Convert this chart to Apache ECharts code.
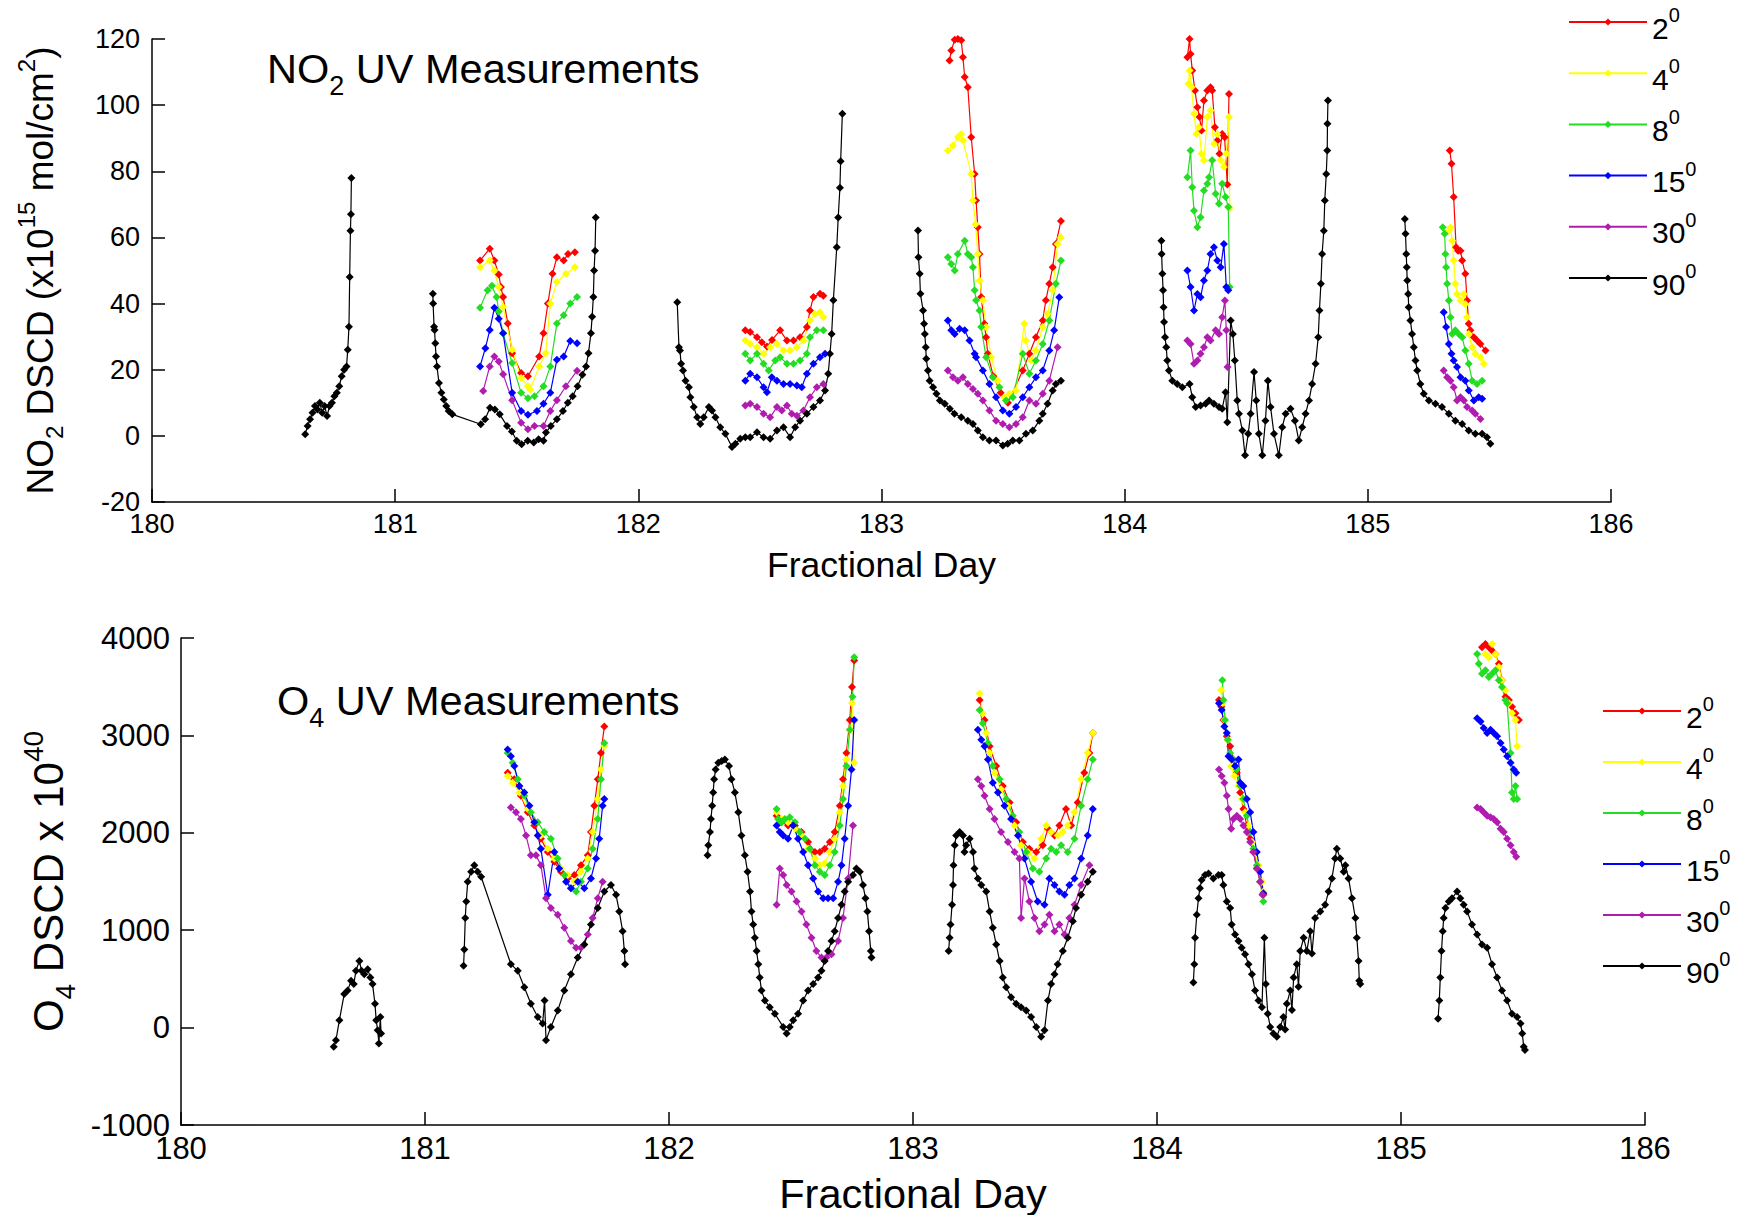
<!DOCTYPE html>
<html>
<head>
<meta charset="utf-8">
<script src="https://cdn.jsdelivr.net/npm/echarts@6/dist/echarts.min.js"></script>
<style>
  html, body { margin: 0; padding: 0; background: #fff; }
  #chart { width: 1740px; height: 1215px; }
</style>
</head>
<body>
<div id="chart"></div>
<script>
// elevation angles (legend entries)
const angles = ['2', '4', '8', '15', '30', '90'];

// ---- NO2 DSCD (x1e15 mol/cm2), one list of [day, value] per daylight period ----
const no2_2 = [
  [[181.349,53],[181.389,56.6],[181.408,53],[181.426,48.8],[181.435,45],[181.444,42],[181.463,34],[181.481,25],[181.518,19],[181.546,18],[181.592,24],[181.61,31],[181.628,40],[181.647,49],[181.665,54],[181.693,53],[181.711,55],[181.739,55.5]],
  [[182.44,31.9],[182.46,31.4],[182.488,29.8],[182.508,28.3],[182.529,27],[182.55,29],[182.583,31.9],[182.611,28.8],[182.638,28.8],[182.665,29.8],[182.693,32.9],[182.706,37.9],[182.72,42],[182.747,43],[182.761,42.4]],
  [[183.28,113.5],[183.287,116.5],[183.301,119.8],[183.314,120],[183.328,119.6],[183.335,114.5],[183.342,108.5],[183.355,105.4],[183.369,90.3],[183.383,79.2],[183.389,71.2],[183.396,63.1],[183.403,55],[183.41,42],[183.423,33.9],[183.43,29.8],[183.437,24.8],[183.46,18],[183.49,13],[183.52,10],[183.581,19.8],[183.608,24.8],[183.635,29.8],[183.663,34.9],[183.676,41],[183.69,46],[183.704,51],[183.717,58],[183.738,65]],
  [[184.258,114.5],[184.267,120],[184.271,115.5],[184.278,110.5],[184.289,104.4],[184.299,99.4],[184.308,96.4],[184.316,92.3],[184.326,101.4],[184.34,104.4],[184.353,105.4],[184.36,104.4],[184.371,93.3],[184.381,89.3],[184.39,85.3],[184.401,91.3],[184.411,90.3],[184.422,76],[184.429,103.4]],
  [[185.337,86.3],[185.344,82.3],[185.353,72.2],[185.363,57],[185.371,56],[185.381,56],[185.388,53],[185.401,49],[185.408,40.9],[185.415,33.9],[185.422,31.9],[185.436,29.8],[185.449,28.8],[185.463,27.8],[185.484,25.8]]
];
const no2_4 = [
  [[181.349,51],[181.389,53],[181.408,50],[181.426,45],[181.444,39],[181.481,26],[181.518,17.5],[181.546,15],[181.555,14],[181.592,21],[181.619,25],[181.638,40],[181.665,46.5],[181.702,49],[181.739,51]],
  [[182.44,28.8],[182.46,27.8],[182.488,26.8],[182.515,24.8],[182.542,26.8],[182.57,27.8],[182.597,25.8],[182.624,25.8],[182.652,26.8],[182.679,28.8],[182.706,34.9],[182.727,36.9],[182.747,37.4],[182.761,35.9]],
  [[183.273,86.3],[183.294,87.8],[183.314,90.3],[183.328,91.3],[183.335,89.3],[183.369,79.2],[183.376,71.2],[183.387,64],[183.396,55],[183.403,47],[183.417,41],[183.43,32.9],[183.451,23.8],[183.478,16.7],[183.505,11.7],[183.526,12.7],[183.553,13.7],[183.587,33.9],[183.594,28.8],[183.615,22.8],[183.635,25.8],[183.663,32.9],[183.683,36.9],[183.704,44],[183.724,58],[183.738,60]],
  [[184.262,106.5],[184.267,110.5],[184.275,105.4],[184.285,97.4],[184.295,91.3],[184.305,93.3],[184.316,85.3],[184.326,83.3],[184.34,96.4],[184.353,98.4],[184.367,88.3],[184.381,91.3],[184.395,83.3],[184.408,81.3],[184.418,85.3],[184.429,96.4],[184.432,69]],
  [[185.333,62],[185.34,63],[185.347,59],[185.353,53],[185.36,46],[185.367,42.9],[185.381,40.9],[185.395,42.9],[185.401,39.9],[185.408,35.9],[185.415,30.8],[185.429,26.8],[185.442,24.8],[185.463,23.8],[185.477,21.8]]
];
const no2_8 = [
  [[181.349,38.7],[181.38,44],[181.398,45.4],[181.417,42],[181.426,37.6],[181.444,31],[181.481,22],[181.518,13],[181.546,11.4],[181.573,12],[181.61,15],[181.638,21],[181.665,34],[181.693,36.5],[181.72,40],[181.748,42]],
  [[182.44,24.8],[182.46,22.8],[182.488,24.8],[182.515,21.8],[182.536,19.8],[182.563,22.8],[182.583,23.8],[182.611,21.8],[182.638,21.8],[182.665,22.8],[182.693,24.8],[182.706,29.8],[182.734,31.9],[182.761,31.9]],
  [[183.273,54],[183.287,52],[183.301,50],[183.314,55],[183.342,59],[183.355,55],[183.369,54],[183.376,51],[183.383,44],[183.389,41],[183.403,37.9],[183.41,32.9],[183.43,23.8],[183.458,17.7],[183.485,14.7],[183.512,10.7],[183.54,11.7],[183.581,24.8],[183.608,18.8],[183.635,22.8],[183.663,27.8],[183.69,34.9],[183.717,46],[183.738,53]],
  [[184.258,78.2],[184.271,86.3],[184.278,75.2],[184.285,68.1],[184.299,63.1],[184.312,66.1],[184.326,74.2],[184.34,76.2],[184.347,78.2],[184.36,83.3],[184.374,73.2],[184.388,70.2],[184.401,76.2],[184.415,72.2],[184.426,69.2],[184.432,45]],
  [[185.308,63.1],[185.316,61.1],[185.319,55],[185.322,51],[185.326,46],[185.333,40.9],[185.34,35.9],[185.347,30.8],[185.36,31.9],[185.374,30.8],[185.388,29.8],[185.401,25.8],[185.415,21.8],[185.429,16.7],[185.449,15.7],[185.47,16.7]]
];
const no2_15 = [
  [[181.349,21],[181.371,26.5],[181.389,32],[181.408,38.7],[181.426,35.4],[181.444,31],[181.481,13],[181.518,7.5],[181.546,6.4],[181.583,7.5],[181.61,9.7],[181.638,13],[181.665,23],[181.693,24],[181.72,28.7],[181.748,28]],
  [[182.44,16.7],[182.46,18.8],[182.488,17.7],[182.515,14.7],[182.529,13.2],[182.549,17.7],[182.57,16.7],[182.597,15.7],[182.624,15.7],[182.652,15.2],[182.672,14.7],[182.693,18.8],[182.72,21.8],[182.747,23.8],[182.768,24.8]],
  [[183.273,34.9],[183.287,31.9],[183.301,30.8],[183.321,32.4],[183.342,31.9],[183.362,28.8],[183.383,24.8],[183.389,23.8],[183.417,19.8],[183.444,15.7],[183.471,11.7],[183.499,7.7],[183.526,6.7],[183.553,8.7],[183.581,11.7],[183.608,14.7],[183.635,17.7],[183.663,19.8],[183.69,25.8],[183.71,31.9],[183.731,41.9]],
  [[184.258,50],[184.271,45],[184.285,37.9],[184.299,42.9],[184.312,41.9],[184.326,47],[184.34,50],[184.353,55],[184.367,57],[184.381,53],[184.395,51],[184.408,58],[184.418,45],[184.426,44]],
  [[185.312,37.4],[185.322,32.9],[185.333,27.8],[185.344,24.8],[185.353,22.8],[185.367,20.8],[185.381,17.7],[185.401,16.7],[185.415,13.7],[185.436,10.7],[185.456,11.7],[185.47,11.2]]
];
const no2_30 = [
  [[181.362,13.6],[181.389,21],[181.408,24],[181.426,22.5],[181.444,18.6],[181.481,10.8],[181.518,4],[181.546,2],[181.573,3],[181.61,3],[181.638,7.5],[181.665,10.8],[181.702,15],[181.748,19.7]],
  [[182.44,9.2],[182.46,9.7],[182.488,8.7],[182.515,6.7],[182.542,5.6],[182.57,8.7],[182.59,7.7],[182.611,9.2],[182.631,6.7],[182.652,6.1],[182.679,7.7],[182.706,11.7],[182.734,14.7],[182.761,15.7]],
  [[183.273,19.8],[183.294,17.7],[183.314,16.7],[183.335,17.7],[183.355,15.7],[183.376,14.2],[183.396,12.7],[183.417,10.7],[183.444,7.7],[183.471,4.6],[183.499,3.6],[183.526,2.6],[183.553,3.6],[183.581,5.6],[183.608,10.7],[183.635,9.7],[183.663,12.7],[183.69,16.7],[183.724,26.8]],
  [[184.258,28.8],[184.271,27.8],[184.285,21.8],[184.299,22.8],[184.312,24.8],[184.326,26.8],[184.34,29.8],[184.353,28.8],[184.374,31.9],[184.388,30.8],[184.401,35.9],[184.412,40.9],[184.418,31.9],[184.423,20.8]],
  [[185.312,19.8],[185.326,17.7],[185.34,16.7],[185.353,14.7],[185.367,10.7],[185.381,11.7],[185.395,10.7],[185.408,8.7],[185.429,7.7],[185.442,6.7],[185.463,5.1]]
];
const no2_90 = [
  [[180.63,0.5],[180.64,3],[180.65,5],[180.66,7],[180.67,9],[180.68,8],[180.69,10],[180.70,7],[180.71,9],[180.72,6],[180.73,9],[180.74,10],[180.75,12],[180.76,13],[180.77,15],[180.78,18],[180.79,20],[180.80,21],[180.805,26],[180.81,33],[180.813,48],[180.816,62],[180.818,67],[180.82,78]],
  [[181.155,43],[181.156,40],[181.16,33],[181.162,32],[181.165,28],[181.168,24],[181.172,21],[181.18,16],[181.19,13],[181.2,11],[181.21,9],[181.22,7.5],[181.235,6.5],[181.352,3.5],[181.37,5],[181.39,8.5],[181.41,8],[181.43,6.5],[181.46,3],[181.48,1.3],[181.5,-1.5],[181.52,-2.5],[181.545,-1.5],[181.57,-2],[181.59,-1],[181.61,-1.5],[181.62,1],[181.64,3],[181.665,5],[181.69,7.5],[181.71,10],[181.73,12],[181.75,15],[181.77,18.5],[181.785,21],[181.795,25],[181.805,31],[181.81,36],[181.815,42],[181.818,50],[181.822,56],[181.825,66]],
  [[182.16,40.4],[182.167,26.8],[182.171,25.8],[182.176,21.8],[182.184,19.8],[182.194,16.7],[182.208,14.7],[182.214,11.7],[182.228,8.7],[182.242,5.6],[182.255,3.6],[182.269,5.6],[182.29,8.7],[182.303,7.7],[182.317,5.6],[182.337,2.6],[182.358,0.6],[182.385,-3.4],[182.399,-2.4],[182.419,-0.9],[182.44,-0.4],[182.46,-0.4],[182.488,1.1],[182.515,-0.4],[182.542,-0.9],[182.57,1.6],[182.597,2.6],[182.624,-0.4],[182.645,2.6],[182.665,4.6],[182.693,6.7],[182.72,8.7],[182.747,10.7],[182.768,13.7],[182.781,18.8],[182.788,24.8],[182.795,30.8],[182.802,41],[182.816,57],[182.822,66],[182.829,75],[182.832,83],[182.839,97.4]],
  [[183.15,62.1],[183.152,54],[183.157,49],[183.16,43],[183.171,37.9],[183.175,33.9],[183.178,30.8],[183.182,26.8],[183.184,23.3],[183.191,19.8],[183.198,16.7],[183.212,14.7],[183.226,12.7],[183.24,10.7],[183.26,9.7],[183.281,8.2],[183.3,6.7],[183.328,5.6],[183.355,4.6],[183.376,3.6],[183.396,1.6],[183.417,-0.4],[183.444,-1.4],[183.471,-1.4],[183.499,-2.9],[183.519,-2.4],[183.54,-1.4],[183.567,-1.4],[183.594,0.6],[183.622,1.6],[183.649,4.6],[183.663,6.7],[183.683,9.7],[183.704,13.7],[183.717,15.7],[183.738,16.7]],
  [[184.151,59],[184.152,55],[184.155,49],[184.158,44],[184.16,38.9],[184.162,34.4],[184.166,29.8],[184.171,26.8],[184.175,22.8],[184.182,19.8],[184.196,16.7],[184.216,15.7],[184.237,14.7],[184.267,15.7],[184.278,11.7],[184.292,8.7],[184.312,9.2],[184.333,9.7],[184.347,10.7],[184.367,9.7],[184.388,8.7],[184.401,8.2],[184.415,13.2],[184.422,4.1],[184.436,34.9],[184.445,30.8],[184.453,22.8],[184.463,10.7],[184.47,6.7],[184.484,1.6],[184.495,-5.9],[184.508,0.6],[184.518,6.7],[184.532,19.3],[184.541,10.7],[184.552,0.6],[184.566,-5.9],[184.579,4.6],[184.589,16.7],[184.6,8.7],[184.614,0.6],[184.634,-5.9],[184.648,2.6],[184.662,6.7],[184.682,8.2],[184.7,4.6],[184.716,-1.4],[184.73,2.6],[184.744,6.7],[184.758,10.7],[184.771,15.7],[184.785,21.8],[184.796,29.8],[184.801,37.9],[184.807,46],[184.812,55],[184.819,62],[184.823,71.2],[184.829,79.2],[184.833,86.3],[184.834,94.4],[184.836,101.4]],
  [[185.152,65.6],[185.155,61.1],[185.158,55],[185.16,51],[185.162,47],[185.166,42.9],[185.168,38.9],[185.175,34.9],[185.182,30.8],[185.189,26.8],[185.196,22.8],[185.203,19.8],[185.216,15.7],[185.23,12.7],[185.251,10.7],[185.278,9.7],[185.305,8.7],[185.333,6.7],[185.36,4.6],[185.388,3.6],[185.415,1.6],[185.442,0.6],[185.47,0.6],[185.49,-0.4],[185.504,-2.4]]
];

// ---- O4 DSCD (x1e40) ----
const o4_2 = [
  [[181.339,2617],[181.366,2549],[181.393,2380],[181.421,2210],[181.448,2075],[181.475,1939],[181.503,1803],[181.53,1702],[181.557,1600],[181.585,1532],[181.612,1566],[181.639,1668],[181.667,1769],[181.68,2007],[181.694,2278],[181.708,2549],[181.721,2820],[181.735,3092]],
  [[182.441,2176],[182.461,2108],[182.488,2075],[182.516,2075],[182.543,2007],[182.57,1905],[182.598,1803],[182.618,1803],[182.638,1837],[182.659,1905],[182.679,2007],[182.7,2278],[182.713,2549],[182.727,2820],[182.741,3159],[182.75,3498],[182.759,3770]],
  [[183.273,3363],[183.293,3159],[183.314,2888],[183.341,2685],[183.368,2481],[183.396,2312],[183.423,2108],[183.45,1905],[183.477,1837],[183.505,1803],[183.532,1871],[183.553,2041],[183.58,1973],[183.6,2075],[183.627,2244],[183.648,2075],[183.675,2312],[183.702,2617],[183.723,2820],[183.737,3024]],
  [[184.254,3363],[184.263,3295],[184.272,3159],[184.286,2990],[184.3,2888],[184.313,2753],[184.327,2617],[184.341,2414],[184.354,2244],[184.368,2075],[184.382,1939],[184.395,1803],[184.409,1634],[184.423,1498],[184.436,1363]],
  [[185.332,3905],[185.346,3939],[185.36,3905],[185.373,3871],[185.387,3837],[185.401,3736],[185.414,3566],[185.428,3397],[185.442,3363],[185.455,3295],[185.469,3227],[185.483,3159]]
];
const o4_4 = [
  [[181.339,2583],[181.359,2515],[181.387,2414],[181.421,2244],[181.448,2108],[181.475,1973],[181.503,1837],[181.53,1736],[181.557,1634],[181.585,1566],[181.612,1498],[181.639,1600],[181.667,1736],[181.687,2007],[181.708,2346],[181.721,2651],[181.735,2888]],
  [[182.441,2210],[182.461,2142],[182.488,2108],[182.516,2041],[182.543,1973],[182.57,1837],[182.598,1736],[182.618,1668],[182.638,1685],[182.659,1803],[182.679,1939],[182.7,2210],[182.713,2481],[182.727,2753],[182.741,3058],[182.75,3329],[182.759,2719]],
  [[183.273,3431],[183.286,3227],[183.3,3024],[183.314,2820],[183.334,2617],[183.361,2447],[183.389,2278],[183.416,2075],[183.443,1871],[183.471,1803],[183.498,1736],[183.525,1939],[183.546,2075],[183.566,2007],[183.593,1973],[183.614,2007],[183.634,2075],[183.662,2210],[183.689,2549],[183.716,2820],[183.737,3024]],
  [[184.263,3465],[184.268,3329],[184.276,3159],[184.29,2956],[184.304,2685],[184.317,2583],[184.334,2481],[184.347,2346],[184.361,2210],[184.375,2075],[184.389,1905],[184.402,1803],[184.416,1668],[184.43,1498],[184.436,1397]],
  [[185.346,3837],[185.36,3803],[185.373,3939],[185.387,3837],[185.401,3702],[185.414,3566],[185.428,3465],[185.442,3329],[185.455,3227],[185.469,3159],[185.476,2888]]
];
const o4_8 = [
  [[181.339,2820],[181.359,2719],[181.38,2549],[181.407,2380],[181.434,2210],[181.462,2108],[181.489,2007],[181.516,1939],[181.544,1736],[181.571,1566],[181.598,1431],[181.619,1397],[181.639,1498],[181.667,1634],[181.687,1837],[181.708,2142],[181.721,2549],[181.735,2922]],
  [[182.441,2244],[182.447,2142],[182.461,2108],[182.475,2142],[182.495,2159],[182.516,2108],[182.536,2007],[182.557,1939],[182.577,1837],[182.598,1668],[182.618,1600],[182.638,1566],[182.659,1668],[182.679,1803],[182.7,2075],[182.713,2346],[182.727,2685],[182.741,3058],[182.752,3397],[182.759,3803]],
  [[183.273,3261],[183.286,3126],[183.307,2922],[183.327,2685],[183.355,2549],[183.382,2346],[183.409,2176],[183.436,2007],[183.464,1803],[183.491,1634],[183.518,1600],[183.546,1736],[183.566,1837],[183.587,1803],[183.607,1871],[183.634,1803],[183.662,1939],[183.689,2278],[183.716,2549],[183.737,2753]],
  [[184.268,3566],[184.272,3363],[184.279,3159],[184.29,2956],[184.3,2820],[184.313,2753],[184.327,2651],[184.341,2481],[184.354,2346],[184.368,2176],[184.382,2007],[184.395,1837],[184.409,1668],[184.423,1498],[184.436,1295]],
  [[185.312,3837],[185.319,3736],[185.332,3634],[185.346,3668],[185.36,3600],[185.373,3634],[185.387,3668],[185.401,3566],[185.414,3498],[185.428,3363],[185.435,3329],[185.449,2820],[185.455,2414],[185.462,2346],[185.469,2481],[185.476,2346]]
];
const o4_15 = [
  [[181.339,2854],[181.352,2786],[181.366,2685],[181.387,2481],[181.407,2414],[181.428,2278],[181.448,2108],[181.462,1973],[181.475,1837],[181.503,1363],[181.53,1803],[181.55,1634],[181.578,1498],[181.598,1431],[181.626,1498],[181.653,1431],[181.68,1532],[181.701,1736],[181.714,1939],[181.728,2278],[181.735,2346]],
  [[182.441,2075],[182.454,2007],[182.468,1973],[182.488,1939],[182.509,2075],[182.529,1939],[182.55,1803],[182.57,1668],[182.591,1532],[182.611,1397],[182.632,1329],[182.652,1329],[182.673,1329],[182.693,1498],[182.707,1668],[182.72,1939],[182.734,2278],[182.748,2651],[182.759,3159]],
  [[183.266,3058],[183.28,2956],[183.293,2888],[183.307,2753],[183.327,2515],[183.348,2414],[183.375,2278],[183.402,2142],[183.43,1973],[183.457,1736],[183.484,1498],[183.511,1295],[183.539,1261],[183.559,1532],[183.58,1464],[183.6,1397],[183.621,1363],[183.641,1464],[183.662,1532],[183.689,1736],[183.716,1973],[183.737,2244]],
  [[184.254,3329],[184.265,3261],[184.276,3092],[184.286,3024],[184.293,2786],[184.306,2753],[184.32,2685],[184.334,2753],[184.341,2515],[184.354,2481],[184.368,2346],[184.382,2210],[184.395,2007],[184.409,1803],[184.423,1600],[184.436,1380]],
  [[185.312,3176],[185.326,3142],[185.339,3075],[185.353,3024],[185.367,3058],[185.38,3024],[185.394,2990],[185.408,2922],[185.421,2854],[185.435,2786],[185.449,2719],[185.462,2651],[185.472,2617]]
];
const o4_30 = [
  [[181.352,2261],[181.373,2210],[181.393,2142],[181.414,1973],[181.434,1769],[181.455,1769],[181.475,1668],[181.496,1329],[181.516,1227],[181.544,1159],[181.571,1024],[181.598,888],[181.619,820],[181.639,820],[181.667,956],[181.687,1125],[181.708,1329],[181.728,1498]],
  [[182.441,1261],[182.454,1634],[182.468,1566],[182.482,1464],[182.502,1397],[182.523,1295],[182.543,1193],[182.563,1058],[182.584,922],[182.604,786],[182.625,719],[182.645,719],[182.666,753],[182.693,888],[182.713,1125],[182.734,1532],[182.754,2075]],
  [[183.266,2549],[183.28,2481],[183.293,2380],[183.314,2244],[183.334,2142],[183.361,2007],[183.389,1905],[183.416,1803],[183.436,1736],[183.443,1125],[183.457,1532],[183.477,1295],[183.498,1125],[183.518,990],[183.539,1058],[183.559,1159],[183.58,990],[183.6,1058],[183.621,956],[183.641,1125],[183.662,1261],[183.689,1464],[183.723,1668]],
  [[184.254,2651],[184.265,2583],[184.276,2515],[184.286,2380],[184.293,2244],[184.304,2041],[184.313,2142],[184.327,2176],[184.341,2142],[184.354,2075],[184.368,2007],[184.382,1905],[184.395,1803],[184.409,1634],[184.423,1498],[184.432,1363]],
  [[185.312,2261],[185.326,2244],[185.339,2210],[185.353,2176],[185.367,2159],[185.38,2142],[185.394,2108],[185.408,2041],[185.421,2007],[185.435,1939],[185.449,1871],[185.462,1803],[185.472,1753]]
];
const o4_90 = [
  [[180.626,-197],[180.635,-129],[180.649,75],[180.669,346],[180.683,380],[180.697,481],[180.708,447],[180.717,583],[180.731,685],[180.74,583],[180.751,549],[180.765,600],[180.776,515],[180.785,447],[180.795,244],[180.8,75],[180.806,-27],[180.811,-163],[180.817,108],[180.82,-61]],
  [[181.158,634],[181.161,803],[181.165,1125],[181.169,1295],[181.175,1498],[181.189,1600],[181.202,1668],[181.216,1600],[181.23,1549],[181.352,651],[181.38,583],[181.407,414],[181.434,244],[181.462,108],[181.482,41],[181.49,278],[181.496,-129],[181.516,7],[181.544,176],[181.571,380],[181.598,549],[181.626,719],[181.653,854],[181.68,1058],[181.708,1227],[181.735,1397],[181.762,1464],[181.783,1363],[181.796,1193],[181.81,990],[181.817,786],[181.82,651]],
  [[182.158,1769],[182.161,1871],[182.168,2007],[182.172,2142],[182.177,2278],[182.181,2414],[182.185,2549],[182.191,2651],[182.202,2719],[182.216,2736],[182.229,2753],[182.246,2685],[182.256,2549],[182.27,2414],[182.284,2210],[182.297,1973],[182.311,1769],[182.322,1600],[182.332,1397],[182.338,1193],[182.345,1058],[182.352,922],[182.359,786],[182.366,651],[182.372,515],[182.379,380],[182.393,278],[182.413,210],[182.434,142],[182.468,7],[182.482,-61],[182.495,7],[182.509,75],[182.529,142],[182.55,278],[182.57,380],[182.591,447],[182.611,515],[182.625,583],[182.638,685],[182.652,786],[182.666,888],[182.679,990],[182.693,1125],[182.707,1261],[182.72,1397],[182.734,1498],[182.754,1566],[182.768,1634],[182.782,1600],[182.795,1464],[182.805,1329],[182.813,1193],[182.82,990],[182.827,786],[182.83,719]],
  [[183.146,786],[183.15,922],[183.154,1058],[183.16,1261],[183.164,1464],[183.166,1668],[183.171,1871],[183.177,1973],[183.191,2007],[183.205,1973],[183.211,1803],[183.218,1871],[183.232,1939],[183.246,1803],[183.252,1634],[183.266,1532],[183.28,1464],[183.3,1397],[183.314,1193],[183.327,1024],[183.341,854],[183.355,685],[183.368,515],[183.382,414],[183.402,312],[183.423,244],[183.443,210],[183.464,176],[183.484,108],[183.505,7],[183.525,-95],[183.539,-27],[183.553,278],[183.566,447],[183.58,549],[183.593,651],[183.614,786],[183.634,922],[183.655,1092],[183.668,1227],[183.689,1363],[183.716,1498],[183.737,1600]],
  [[184.149,464],[184.153,651],[184.156,922],[184.163,1159],[184.17,1329],[184.176,1431],[184.183,1515],[184.197,1566],[184.211,1583],[184.231,1532],[184.252,1566],[184.265,1566],[184.272,1464],[184.286,1295],[184.3,1227],[184.306,1058],[184.32,956],[184.334,888],[184.347,820],[184.361,753],[184.375,651],[184.389,549],[184.402,380],[184.416,278],[184.43,210],[184.44,922],[184.446,447],[184.454,142],[184.464,7],[184.477,-61],[184.491,-95],[184.505,7],[184.518,108],[184.525,-20],[184.532,244],[184.546,380],[184.553,180],[184.56,515],[184.573,651],[184.58,420],[184.587,786],[184.601,922],[184.614,786],[184.628,990],[184.635,760],[184.648,1125],[184.669,1193],[184.689,1261],[184.703,1397],[184.717,1532],[184.73,1736],[184.737,1837],[184.751,1736],[184.765,1600],[184.772,1668],[184.785,1532],[184.799,1329],[184.813,1125],[184.819,922],[184.826,685],[184.829,481],[184.833,447]],
  [[185.152,92],[185.157,278],[185.161,515],[185.166,786],[185.171,990],[185.175,1125],[185.182,1227],[185.196,1295],[185.209,1329],[185.23,1397],[185.243,1329],[185.257,1261],[185.271,1193],[185.291,1058],[185.312,956],[185.332,854],[185.353,820],[185.373,651],[185.394,515],[185.414,380],[185.435,278],[185.455,142],[185.476,108],[185.49,41],[185.497,-61],[185.503,-197],[185.508,-231]]
];

const no2Sets = [no2_2, no2_4, no2_8, no2_15, no2_30, no2_90];
const o4Sets = [o4_2, o4_4, o4_8, o4_15, o4_30, o4_90];
const colors = ['#ff0000', '#ffff00', '#22dd22', '#0000ff', '#b01cb0', '#000000'];

const FONT = '"Liberation Sans", Arial, sans-serif';

// sub/superscript styles for rich text
function richSet(main, small, drop) {
  const base = { fontFamily: FONT, color: '#000', fontWeight: 'normal', verticalAlign: 'top' };
  return {
    m: Object.assign({}, base, { fontSize: main, lineHeight: main + 4, padding: [8, 0, 0, 0] }),
    sup: Object.assign({}, base, { fontSize: small, lineHeight: small + 2 }),
    sub: Object.assign({}, base, { fontSize: small, lineHeight: small + 2, padding: [drop, 0, 0, 0] })
  };
}

function buildSeries(sets, axis) {
  const out = [];
  sets.forEach((segs, i) => {
    segs.forEach(seg => {
      out.push({
        name: angles[i],
        type: 'line',
        xAxisIndex: axis,
        yAxisIndex: axis,
        data: seg,
        symbol: 'diamond',
        symbolSize: 8,
        lineStyle: { width: 1.2, color: colors[i] },
        itemStyle: { color: colors[i] },
        emphasis: { disabled: true },
        animation: false
      });
    });
  });
  return out;
}

function xAxisOpt(idx, fs, nameFs, gap) {
  return {
    gridIndex: idx, type: 'value', min: 180, max: 186, interval: 1,
    name: 'Fractional Day', nameLocation: 'middle', nameGap: gap,
    nameTextStyle: { fontSize: nameFs, fontFamily: FONT, color: '#000' },
    axisLine: { onZero: false, lineStyle: { color: '#000', width: 1.5 } },
    axisTick: { inside: true, length: 13, lineStyle: { color: '#000', width: 1.5 } },
    axisLabel: { fontSize: fs, fontFamily: FONT, color: '#000', margin: 8 },
    splitLine: { show: false }
  };
}

function yAxisOpt(idx, min, max, step, name, rich, gap, fs, margin) {
  return {
    gridIndex: idx, type: 'value', min: min, max: max, interval: step,
    name: name, nameLocation: 'middle', nameGap: gap,
    nameTextStyle: { rich: rich },
    axisLine: { onZero: false, lineStyle: { color: '#000', width: 1.5 } },
    axisTick: { inside: true, length: 13, lineStyle: { color: '#000', width: 1.5 } },
    axisLabel: { fontSize: fs, fontFamily: FONT, color: '#000', margin: margin, formatter: v => String(v) },
    splitLine: { show: false }
  };
}

function legendOpt(left, top, gap) {
  return {
    orient: 'vertical', left: left, top: top, itemWidth: 78, itemHeight: 9, itemGap: gap,
    data: angles,
    formatter: name => '{m|' + name + '}{sup|0}',
    textStyle: { rich: richSet(30, 20, 0) }
  };
}

const chart = echarts.init(document.getElementById('chart'), null, { renderer: 'svg' });

chart.setOption({
  backgroundColor: '#fff',
  animation: false,
  title: [
    { text: '{m|NO}{sub|2}{m| UV Measurements}', left: 262, top: 34, textStyle: { fontWeight: 'normal', rich: richSet(41.5, 27, 33) } },
    { text: '{m|O}{sub|4}{m| UV Measurements}', left: 272, top: 666, textStyle: { fontWeight: 'normal', rich: richSet(41.5, 27, 33) } }
  ],
  legend: [legendOpt(1563, 0, 13.2), legendOpt(1597, 689, 13.0)],
  grid: [
    { left: 152, top: 39, width: 1459, height: 463 },
    { left: 181, top: 638, width: 1464, height: 489 }
  ],
  xAxis: [xAxisOpt(0, 27, 35.5, 45), xAxisOpt(1, 31, 41.5, 47)],
  yAxis: [
    yAxisOpt(0, -20, 120, 20, '{m|NO}{sub|2}{m| DSCD (x10}{sup|15}{m| mol/cm}{sup|2}{m|)}', richSet(37, 24, 28), 97, 27, 12),
    yAxisOpt(1, -1000, 4000, 1000, '{m|O}{sub|4}{m| DSCD x 10}{sup|40}', richSet(42, 28, 32), 113, 31, 11)
  ],
  series: buildSeries(no2Sets, 0).concat(buildSeries(o4Sets, 1))
});
</script>
</body>
</html>
